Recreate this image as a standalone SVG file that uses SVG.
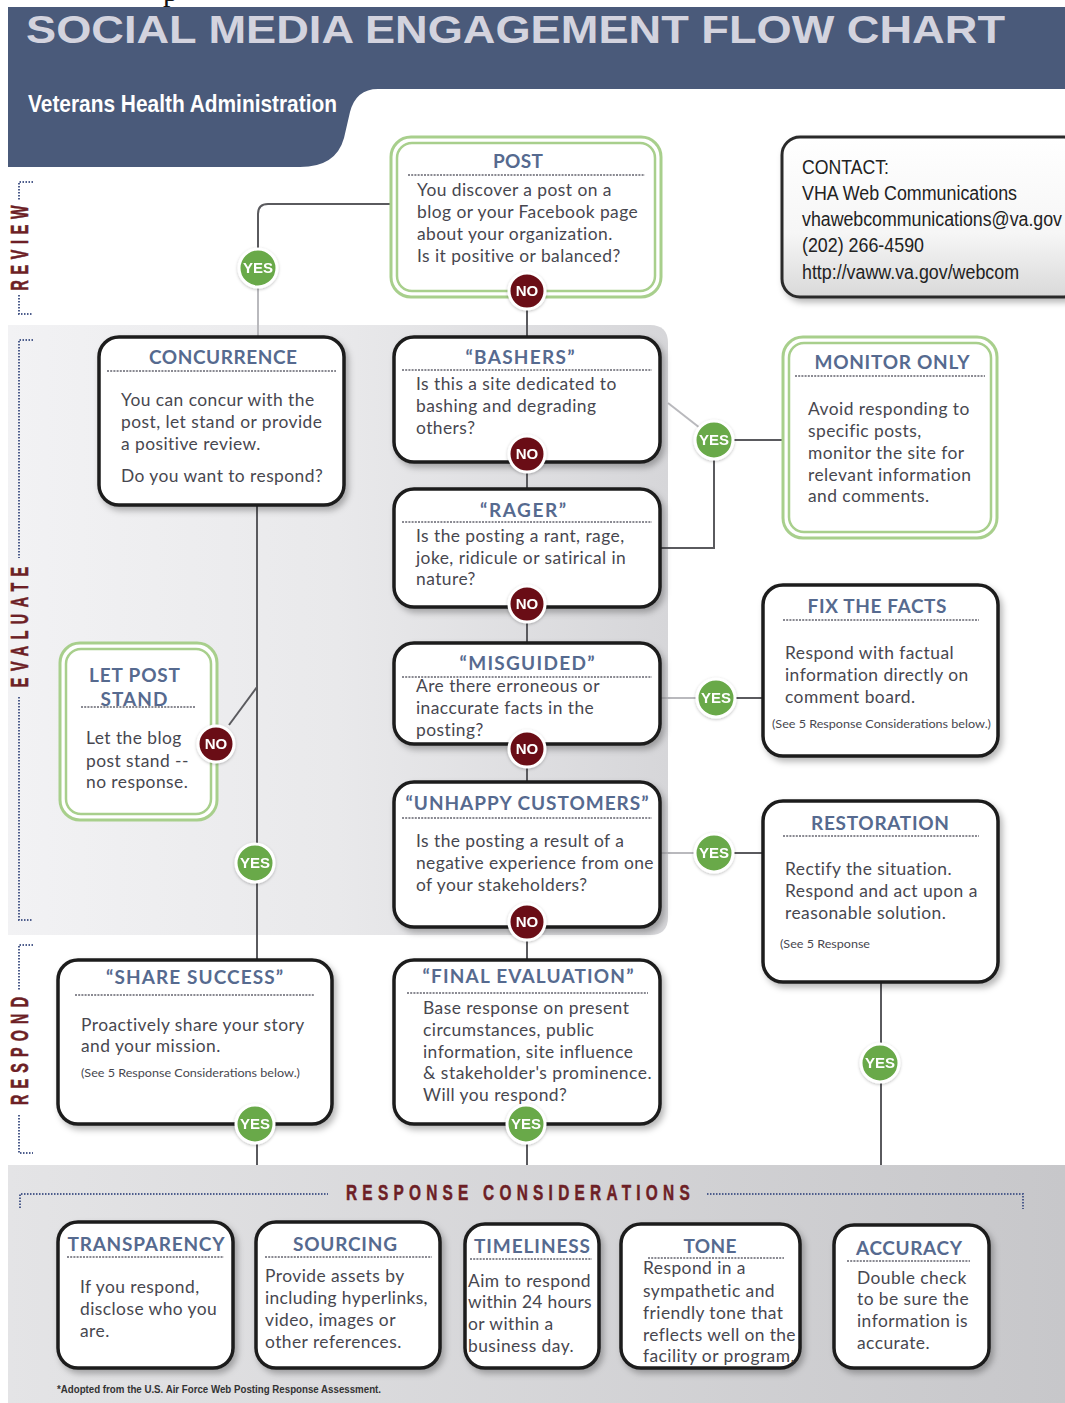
<svg xmlns="http://www.w3.org/2000/svg" width="1065" height="1403" viewBox="0 0 1065 1403">
  <defs>
    <style>
      .hd { font-family: "Liberation Sans", Arial, sans-serif; font-weight: 700; }
      .ttl { font-family: Lato, "Open Sans", sans-serif; font-weight: 700; font-size: 19px; fill: #566a8f; text-anchor: middle; }
      .bd { font-family: Lato, "Open Sans", sans-serif; font-size: 17.4px; letter-spacing: 0.45px; fill: #47474f; }
      .sm { font-family: Lato, "Open Sans", sans-serif; font-size: 12px; fill: #47474f; }
      .ct { font-family: "Liberation Sans", Arial, sans-serif; font-size: 20px; fill: #222; }
      .side { font-family: "Liberation Sans", Arial, sans-serif; font-weight: 700; font-size: 23px; fill: #6d1f26; stroke: #6d1f26; stroke-width: 0.6; text-anchor: middle; }
      .foot { font-family: "Liberation Sans", Arial, sans-serif; font-weight: 700; font-size: 11.5px; fill: #333; }
      .box { fill: #fff; stroke: #1e1e1e; stroke-width: 3.5; }
      .gout { fill: #fff; stroke: #a8cf8c; stroke-width: 3; }
      .gin { fill: none; stroke: #a8cf8c; stroke-width: 2.5; }
      .dots { stroke: #8a8a92; stroke-width: 2.2; stroke-dasharray: 2 1.2; fill: none; }
      .brk { stroke: #4d5d8c; stroke-width: 2; stroke-dasharray: 1.5 1.5; fill: none; }
      .ln { fill: none; stroke: #5a5a5e; stroke-width: 2; }
      .lnl { fill: none; stroke: #b9b9bd; stroke-width: 2; }
      .yes circle { fill: #69a948; stroke: #fff; stroke-width: 3; }
      .no circle { fill: #6a0e15; stroke: #fff; stroke-width: 3; }
      .bt { font-family: "Liberation Sans", Arial, sans-serif; font-weight: 700; font-size: 15px; fill: #fff; text-anchor: middle; }
    </style>
    <filter id="sh" x="-15%" y="-15%" width="135%" height="140%">
      <feDropShadow dx="3" dy="4" stdDeviation="3" flood-color="#000" flood-opacity="0.28"/>
    </filter>
    <filter id="bsh" x="-30%" y="-30%" width="160%" height="160%">
      <feDropShadow dx="0" dy="1" stdDeviation="1.5" flood-color="#000" flood-opacity="0.25"/>
    </filter>
    <linearGradient id="evalBand" x1="0" y1="0" x2="1" y2="0">
      <stop offset="0" stop-color="#f2f2f4"/>
      <stop offset="0.5" stop-color="#e9e9eb"/>
      <stop offset="1" stop-color="#d6d6d9"/>
    </linearGradient>
    <linearGradient id="respBand" x1="0" y1="0" x2="1" y2="0">
      <stop offset="0" stop-color="#e4e4e6"/>
      <stop offset="1" stop-color="#c7c7ca"/>
    </linearGradient>
    <linearGradient id="contactFill" x1="0" y1="0" x2="0" y2="1">
      <stop offset="0" stop-color="#ffffff"/>
      <stop offset="0.6" stop-color="#f6f6f6"/>
      <stop offset="1" stop-color="#d9d9d9"/>
    </linearGradient>
  </defs>

  <!-- page -->
  <rect x="0" y="0" width="1065" height="1403" fill="#fff"/>
  <text x="163" y="1" font-family="'Liberation Serif', serif" font-size="30" fill="#111">p</text>

  <!-- header -->
  <path d="M8,7 H1065 V89 H378 Q356,89 350,112 L344,138 Q336,167 300,167 H8 Z" fill="#4a5a7a"/>
  <text class="hd" x="26" y="43" font-size="39" fill="#d3d3de" textLength="979" lengthAdjust="spacingAndGlyphs">SOCIAL MEDIA ENGAGEMENT FLOW CHART</text>
  <text class="hd" x="28" y="112" font-size="24" fill="#fff" textLength="309" lengthAdjust="spacingAndGlyphs">Veterans Health Administration</text>

  <!-- section backgrounds -->
  <path d="M8,325 H650 Q668,325 668,343 V917 Q668,935 650,935 H8 Z" fill="url(#evalBand)"/>
  <rect x="8" y="1165" width="1057" height="238" fill="url(#respBand)"/>

  <!-- section labels (condensed, letter-spaced) -->
  <g id="label-review">
    <path class="brk" d="M33,182 H19 V200 M19,295 V314 H33"/>
    <text class="side" transform="translate(28,248) rotate(-90) scale(0.62,1)" textLength="137" lengthAdjust="spacing">REVIEW</text>
  </g>
  <g id="label-evaluate">
    <path class="brk" d="M33,340 H19 V558 M19,697 V920 H33"/>
    <text class="side" transform="translate(28,627) rotate(-90) scale(0.62,1)" textLength="194" lengthAdjust="spacing">EVALUATE</text>
  </g>
  <g id="label-respond">
    <path class="brk" d="M33,945 H19 V990 M19,1115 V1153 H33"/>
    <text class="side" transform="translate(28,1051) rotate(-90) scale(0.62,1)" textLength="174" lengthAdjust="spacing">RESPOND</text>
  </g>

  <!-- connectors -->
  <g id="connectors">
    <path class="ln" d="M391,204 H268 Q258,204 258,214 V250"/>
    <path class="lnl" d="M258,287 V337"/>
    <path class="ln" d="M527,309 V337"/>
    <path class="lnl" d="M668,403 L700,428"/>
    <path class="ln" d="M733,440 H783"/>
    <path class="ln" d="M714,459 V548 H660"/>
    <path class="ln" d="M527,472 V489"/>
    <path class="ln" d="M527,622 V643"/>
    <path class="lnl" d="M660,698 H697"/>
    <path class="ln" d="M735,698 H763"/>
    <path class="ln" d="M527,767 V782"/>
    <path class="lnl" d="M660,853 H695"/>
    <path class="ln" d="M733,853 H763"/>
    <path class="ln" d="M527,940 V960"/>
    <path class="ln" d="M257,505 V960" stroke-width="1.6"/>
    <path class="ln" d="M229,725 L257,687" stroke="#7a7a7e" stroke-width="1.6"/>
    <path class="ln" d="M881,982 V1165" stroke="#7a7a7e"/>
    <path class="ln" d="M257,1143 V1165"/>
    <path class="ln" d="M527,1143 V1165"/>
  </g>

  <!-- contact -->
  <g id="contact">
    <rect x="782" y="137" width="300" height="160" rx="18" fill="url(#contactFill)" stroke="#2a2a2a" stroke-width="3" filter="url(#sh)"/>
    <text class="ct" x="802" y="174" textLength="87" lengthAdjust="spacingAndGlyphs">CONTACT:</text>
    <text class="ct" x="802" y="200" textLength="215" lengthAdjust="spacingAndGlyphs">VHA Web Communications</text>
    <text class="ct" x="802" y="226" textLength="260" lengthAdjust="spacingAndGlyphs">vhawebcommunications@va.gov</text>
    <text class="ct" x="802" y="252" textLength="122" lengthAdjust="spacingAndGlyphs">(202) 266-4590</text>
    <text class="ct" x="802" y="279" textLength="217" lengthAdjust="spacingAndGlyphs">http://vaww.va.gov/webcom</text>
  </g>

  <!-- flow nodes -->
  <g id="post">
    <rect class="gout" x="391" y="137" width="270" height="160" rx="20"/>
    <rect class="gin" x="397" y="143" width="258" height="148" rx="15"/>
    <text class="ttl" x="518" y="168" textLength="50" lengthAdjust="spacing">POST</text>
    <line class="dots" x1="408" y1="175" x2="645" y2="175"/>
    <text class="bd" x="417" y="196">You discover a post on a</text>
    <text class="bd" x="417" y="218">blog or your Facebook page</text>
    <text class="bd" x="417" y="240">about your organization.</text>
    <text class="bd" x="417" y="262">Is it positive or balanced?</text>
  </g>

  <g id="concurrence">
    <rect class="box" x="99" y="337" width="245" height="168" rx="20" filter="url(#sh)"/>
    <text class="ttl" x="223" y="364" textLength="148" lengthAdjust="spacing">CONCURRENCE</text>
    <line class="dots" x1="107" y1="371" x2="336" y2="371"/>
    <text class="bd" x="121" y="406">You can concur with the</text>
    <text class="bd" x="121" y="428">post, let stand or provide</text>
    <text class="bd" x="121" y="450">a positive review.</text>
    <text class="bd" x="121" y="482">Do you want to respond?</text>
  </g>

  <g id="bashers">
    <rect class="box" x="394" y="337" width="266" height="125" rx="20" filter="url(#sh)"/>
    <text class="ttl" x="520" y="364" textLength="109" lengthAdjust="spacing">“BASHERS”</text>
    <line class="dots" x1="402" y1="370" x2="652" y2="370"/>
    <text class="bd" x="416" y="390">Is this a site dedicated to</text>
    <text class="bd" x="416" y="412">bashing and degrading</text>
    <text class="bd" x="416" y="434">others?</text>
  </g>

  <g id="monitor-only">
    <rect class="gout" x="783" y="337" width="214" height="201" rx="20"/>
    <rect class="gin" x="789" y="343" width="202" height="189" rx="15"/>
    <text class="ttl" x="892" y="369" textLength="155" lengthAdjust="spacing">MONITOR ONLY</text>
    <line class="dots" x1="795" y1="376" x2="985" y2="376"/>
    <text class="bd" x="808" y="415">Avoid responding to</text>
    <text class="bd" x="808" y="437">specific posts,</text>
    <text class="bd" x="808" y="459">monitor the site for</text>
    <text class="bd" x="808" y="481">relevant information</text>
    <text class="bd" x="808" y="502">and comments.</text>
  </g>

  <g id="rager">
    <rect class="box" x="394" y="489" width="266" height="118" rx="20" filter="url(#sh)"/>
    <text class="ttl" x="523" y="517" textLength="86" lengthAdjust="spacing">“RAGER”</text>
    <line class="dots" x1="402" y1="522" x2="652" y2="522"/>
    <text class="bd" x="416" y="542">Is the posting a rant, rage,</text>
    <text class="bd" x="416" y="564">joke, ridicule or satirical in</text>
    <text class="bd" x="416" y="585">nature?</text>
  </g>

  <g id="fix-the-facts">
    <rect class="box" x="763" y="585" width="235" height="171" rx="20" filter="url(#sh)"/>
    <text class="ttl" x="877" y="613" textLength="139" lengthAdjust="spacing">FIX THE FACTS</text>
    <line class="dots" x1="783" y1="620" x2="979" y2="620"/>
    <text class="bd" x="785" y="659">Respond with factual</text>
    <text class="bd" x="785" y="681">information directly on</text>
    <text class="bd" x="785" y="703">comment board.</text>
    <text class="sm" x="772" y="728" textLength="219" lengthAdjust="spacingAndGlyphs">(See 5 Response Considerations below.)</text>
  </g>

  <g id="let-post-stand">
    <rect class="gout" x="60" y="643" width="157" height="177" rx="20"/>
    <rect class="gin" x="66" y="649" width="145" height="165" rx="15"/>
    <text class="ttl" x="134.5" y="682" textLength="91" lengthAdjust="spacing">LET POST</text>
    <text class="ttl" x="134" y="706" textLength="67" lengthAdjust="spacing">STAND</text>
    <line class="dots" x1="81" y1="707" x2="195" y2="707"/>
    <text class="bd" x="86" y="744">Let the blog</text>
    <text class="bd" x="86" y="767">post stand --</text>
    <text class="bd" x="86" y="788">no response.</text>
  </g>

  <g id="misguided">
    <rect class="box" x="394" y="643" width="266" height="101" rx="20" filter="url(#sh)"/>
    <text class="ttl" x="527" y="670" textLength="135" lengthAdjust="spacing">“MISGUIDED”</text>
    <line class="dots" x1="402" y1="677" x2="652" y2="677"/>
    <text class="bd" x="416" y="692">Are there erroneous or</text>
    <text class="bd" x="416" y="714">inaccurate facts in the</text>
    <text class="bd" x="416" y="736">posting?</text>
  </g>

  <g id="unhappy-customers">
    <rect class="box" x="394" y="782" width="266" height="145" rx="20" filter="url(#sh)"/>
    <text class="ttl" x="527" y="810" textLength="243" lengthAdjust="spacing">“UNHAPPY CUSTOMERS”</text>
    <line class="dots" x1="402" y1="818" x2="652" y2="818"/>
    <text class="bd" x="416" y="847">Is the posting a result of a</text>
    <text class="bd" x="416" y="869" textLength="238" lengthAdjust="spacing">negative experience from one</text>
    <text class="bd" x="416" y="891">of your stakeholders?</text>
  </g>

  <g id="restoration">
    <rect class="box" x="763" y="801" width="235" height="181" rx="20" filter="url(#sh)"/>
    <text class="ttl" x="880" y="830" textLength="138" lengthAdjust="spacing">RESTORATION</text>
    <line class="dots" x1="783" y1="836" x2="979" y2="836"/>
    <text class="bd" x="785" y="875">Rectify the situation.</text>
    <text class="bd" x="785" y="897">Respond and act upon a</text>
    <text class="bd" x="785" y="919">reasonable solution.</text>
    <text class="sm" x="780" y="948" textLength="90" lengthAdjust="spacingAndGlyphs">(See 5 Response</text>
  </g>

  <g id="share-success">
    <rect class="box" x="58" y="960" width="274" height="164" rx="20" filter="url(#sh)"/>
    <text class="ttl" x="194.5" y="984" textLength="177" lengthAdjust="spacing">“SHARE SUCCESS”</text>
    <line class="dots" x1="75" y1="995" x2="315" y2="995"/>
    <text class="bd" x="81" y="1031">Proactively share your story</text>
    <text class="bd" x="81" y="1052">and your mission.</text>
    <text class="sm" x="81" y="1077" textLength="219" lengthAdjust="spacingAndGlyphs">(See 5 Response Considerations below.)</text>
  </g>

  <g id="final-evaluation">
    <rect class="box" x="394" y="960" width="266" height="164" rx="20" filter="url(#sh)"/>
    <text class="ttl" x="528" y="983" textLength="211" lengthAdjust="spacing">“FINAL EVALUATION”</text>
    <line class="dots" x1="407" y1="993" x2="648" y2="993"/>
    <text class="bd" x="423" y="1014">Base response on present</text>
    <text class="bd" x="423" y="1036">circumstances, public</text>
    <text class="bd" x="423" y="1058">information, site influence</text>
    <text class="bd" x="423" y="1079" textLength="229" lengthAdjust="spacing">&amp; stakeholder's prominence.</text>
    <text class="bd" x="423" y="1101">Will you respond?</text>
  </g>

  <!-- decision badges -->
  <g id="badges">
    <g class="no" filter="url(#bsh)"><circle cx="527" cy="291" r="18"/><text class="bt" x="527" y="296">NO</text></g>
    <g class="no" filter="url(#bsh)"><circle cx="527" cy="454" r="18"/><text class="bt" x="527" y="459">NO</text></g>
    <g class="no" filter="url(#bsh)"><circle cx="527" cy="604" r="18"/><text class="bt" x="527" y="609">NO</text></g>
    <g class="no" filter="url(#bsh)"><circle cx="527" cy="749" r="18"/><text class="bt" x="527" y="754">NO</text></g>
    <g class="no" filter="url(#bsh)"><circle cx="527" cy="922" r="18"/><text class="bt" x="527" y="927">NO</text></g>
    <g class="no" filter="url(#bsh)"><circle cx="216" cy="744" r="18"/><text class="bt" x="216" y="749">NO</text></g>
    <g class="yes" filter="url(#bsh)"><circle cx="258" cy="268" r="19"/><text class="bt" x="258" y="273">YES</text></g>
    <g class="yes" filter="url(#bsh)"><circle cx="714" cy="440" r="19"/><text class="bt" x="714" y="445">YES</text></g>
    <g class="yes" filter="url(#bsh)"><circle cx="716" cy="698" r="19"/><text class="bt" x="716" y="703">YES</text></g>
    <g class="yes" filter="url(#bsh)"><circle cx="714" cy="853" r="19"/><text class="bt" x="714" y="858">YES</text></g>
    <g class="yes" filter="url(#bsh)"><circle cx="255" cy="863" r="19"/><text class="bt" x="255" y="868">YES</text></g>
    <g class="yes" filter="url(#bsh)"><circle cx="255" cy="1124" r="19"/><text class="bt" x="255" y="1129">YES</text></g>
    <g class="yes" filter="url(#bsh)"><circle cx="526" cy="1124" r="19"/><text class="bt" x="526" y="1129">YES</text></g>
    <g class="yes" filter="url(#bsh)"><circle cx="880" cy="1063" r="19"/><text class="bt" x="880" y="1068">YES</text></g>
  </g>

  <!-- response considerations -->
  <g id="response-considerations-heading">
    <path class="brk" d="M20,1208 V1194 H328"/>
    <path class="brk" d="M707,1194 H1023 V1209"/>
    <text class="hd" transform="translate(346,1200) scale(0.7,1)" font-size="22" fill="#6d1f26" stroke="#6d1f26" stroke-width="0.5" textLength="491" lengthAdjust="spacing">RESPONSE CONSIDERATIONS</text>
  </g>

  <g id="transparency">
    <rect class="box" x="58" y="1222" width="175" height="146" rx="20" stroke-width="4" filter="url(#sh)"/>
    <text class="ttl" x="146" y="1251" textLength="157" lengthAdjust="spacing">TRANSPARENCY</text>
    <line class="dots" x1="67" y1="1257" x2="224" y2="1257"/>
    <text class="bd" x="80" y="1293">If you respond,</text>
    <text class="bd" x="80" y="1315">disclose who you</text>
    <text class="bd" x="80" y="1337">are.</text>
  </g>

  <g id="sourcing">
    <rect class="box" x="256" y="1222" width="184" height="146" rx="20" stroke-width="4" filter="url(#sh)"/>
    <text class="ttl" x="345" y="1251" textLength="104" lengthAdjust="spacing">SOURCING</text>
    <line class="dots" x1="265" y1="1257" x2="432" y2="1257"/>
    <text class="bd" x="265" y="1282">Provide assets by</text>
    <text class="bd" x="265" y="1304" textLength="163" lengthAdjust="spacing">including hyperlinks,</text>
    <text class="bd" x="265" y="1326">video, images or</text>
    <text class="bd" x="265" y="1348">other references.</text>
  </g>

  <g id="timeliness">
    <rect class="box" x="465" y="1224" width="134" height="144" rx="20" stroke-width="4" filter="url(#sh)"/>
    <text class="ttl" x="532" y="1253" textLength="116" lengthAdjust="spacing">TIMELINESS</text>
    <line class="dots" x1="470" y1="1259" x2="592" y2="1259"/>
    <text class="bd" x="468" y="1287" textLength="123" lengthAdjust="spacing">Aim to respond</text>
    <text class="bd" x="468" y="1308" textLength="124" lengthAdjust="spacing">within 24 hours</text>
    <text class="bd" x="468" y="1330">or within a</text>
    <text class="bd" x="468" y="1352">business day.</text>
  </g>

  <g id="tone">
    <rect class="box" x="621" y="1224" width="179" height="144" rx="20" stroke-width="4" filter="url(#sh)"/>
    <text class="ttl" x="710" y="1253" textLength="53" lengthAdjust="spacing">TONE</text>
    <line class="dots" x1="648" y1="1258" x2="784" y2="1258"/>
    <text class="bd" x="643" y="1274">Respond in a</text>
    <text class="bd" x="643" y="1297">sympathetic and</text>
    <text class="bd" x="643" y="1319">friendly tone that</text>
    <text class="bd" x="643" y="1341" textLength="153" lengthAdjust="spacing">reflects well on the</text>
    <text class="bd" x="643" y="1362" textLength="152" lengthAdjust="spacing">facility or program.</text>
  </g>

  <g id="accuracy">
    <rect class="box" x="834" y="1225" width="155" height="143" rx="20" stroke-width="4" filter="url(#sh)"/>
    <text class="ttl" x="909" y="1255" textLength="106" lengthAdjust="spacing">ACCURACY</text>
    <line class="dots" x1="847" y1="1261" x2="970" y2="1261"/>
    <text class="bd" x="857" y="1284">Double check</text>
    <text class="bd" x="857" y="1305">to be sure the</text>
    <text class="bd" x="857" y="1327">information is</text>
    <text class="bd" x="857" y="1349">accurate.</text>
  </g>

  <text class="foot" x="57" y="1393" textLength="324" lengthAdjust="spacingAndGlyphs">*Adopted from the U.S. Air Force Web Posting Response Assessment.</text>
</svg>
